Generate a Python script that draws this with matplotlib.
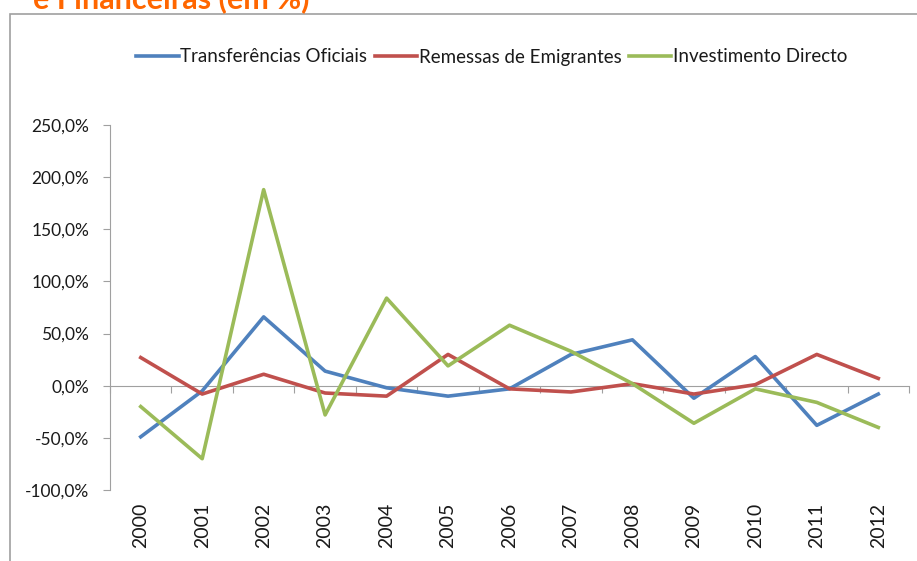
import matplotlib.pyplot as plt
from matplotlib.patches import Rectangle
from matplotlib.ticker import FuncFormatter

# ==============================
# Data (variação anual, em %)
# ==============================
years = ["2000", "2001", "2002", "2003", "2004", "2005", "2006",
         "2007", "2008", "2009", "2010", "2011", "2012"]

transferencias = [-49, -5, 66, 14, -2, -10, -3, 30, 44, -12, 28, -38, -8]
remessas = [27, -8, 11, -7, -10, 30, -3, -6, 2, -8, 1, 30, 7]
investimento = [-20, -70, 188, -28, 84, 19, 58, 33, 2, -36, -3, -16, -40]

series_names = ["Transferências Oficiais", "Remessas de Emigrantes", "Investimento Directo"]
colors = ["#4F81BD", "#C0504D", "#9BBB59"]

plt.rcParams['font.family'] = ['Lato', 'DejaVu Sans']
plt.rcParams['text.color'] = "#1A1A1A"

fig = plt.figure(figsize=(9.17, 5.61), dpi=100)

# chart frame + cut-off title
fig.patches.append(Rectangle((10 / 917, -0.01), 1.0, 1 - 14 / 561 + 0.01,
                             transform=fig.transFigure, fill=False,
                             edgecolor="#A0A0A0", linewidth=1.2))
fig.text(33 / 917, 1 - 8 / 561, "e Financeiras (em %)", color="#FF6600",
         fontsize=22, fontweight="bold", va="baseline", ha="left")

ax = fig.add_axes([110 / 917, 1 - 490 / 561, 799 / 917, 365 / 561])

x = list(range(len(years)))
for vals, name, c in zip([transferencias, remessas, investimento], series_names, colors):
    ax.plot(x, vals, color=c, linewidth=2.6, label=name)

ax.set_xlim(-0.5, len(years) - 0.5)
ax.set_ylim(-100, 250)
ax.set_yticks(range(-100, 251, 50))
ax.yaxis.set_major_formatter(FuncFormatter(lambda v, p: f"{v:.1f}%".replace(".", ",")))
ax.tick_params(axis="y", direction="out", length=5, color="#A0A0A0",
               labelsize=12.5, labelcolor="#1A1A1A", pad=10)

ax.set_xticks(x)
ax.set_xticklabels(years, rotation=90, fontsize=14)
ax.tick_params(axis="x", length=0, pad=9, labelcolor="#1A1A1A")

for s in ["top", "right", "bottom"]:
    ax.spines[s].set_visible(False)
ax.spines["left"].set_color("#A0A0A0")

# horizontal axis line at zero with category separators
sec = ax.secondary_xaxis(0, transform=ax.transData)
sec.set_xticks([i - 0.5 for i in range(len(years) + 1)])
sec.set_xticklabels([])
sec.tick_params(direction="out", length=5, color="#A0A0A0")
sec.spines["bottom"].set_color("#A0A0A0")

fig.legend(loc="center", bbox_to_anchor=(492 / 917, 1 - 57 / 561), ncol=3,
           frameon=False, fontsize=13.5, handlelength=2.25, columnspacing=0.4,
           handletextpad=0.1, borderpad=0)

fig.savefig("out.png", dpi=100)
